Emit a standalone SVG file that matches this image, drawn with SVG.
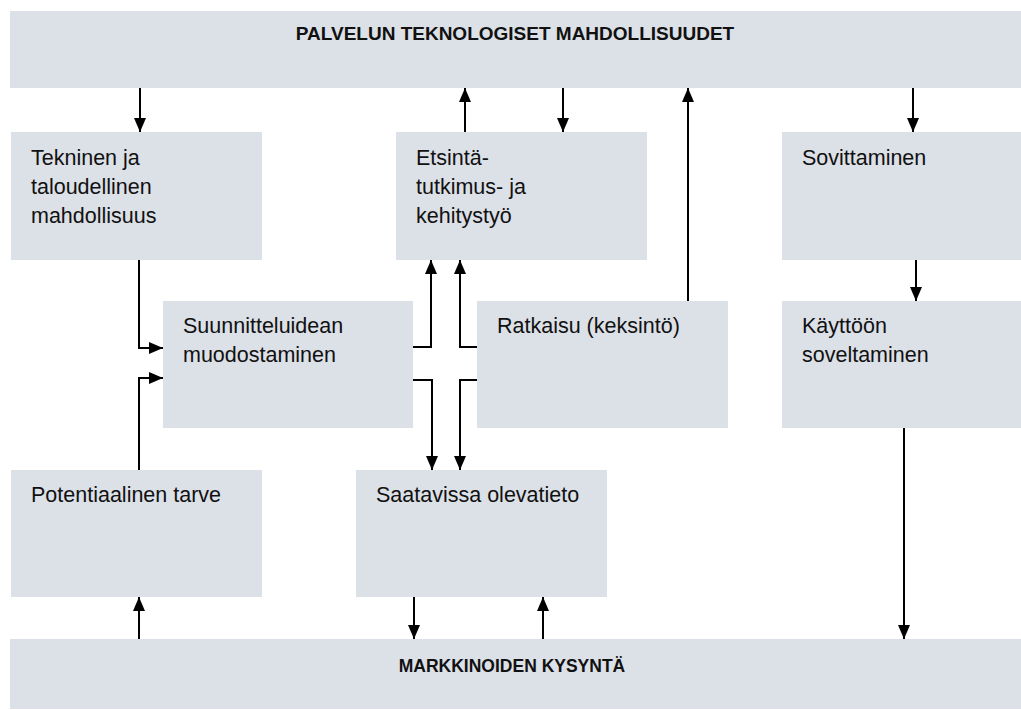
<svg xmlns="http://www.w3.org/2000/svg" width="1021" height="710" viewBox="0 0 1021 710">
<style>
.box{fill:#dce0e7;}
.t{font-family:"Liberation Sans",Arial,sans-serif;font-size:21.5px;fill:#111;}
.h{font-family:"Liberation Sans",Arial,sans-serif;font-weight:bold;fill:#111;text-anchor:middle;}
.c{fill:none;stroke:#000;stroke-width:2;marker-end:url(#ah);}
</style>
<defs>
<marker id="ah" markerUnits="userSpaceOnUse" markerWidth="14" markerHeight="12" viewBox="0 0 14 12" refX="14" refY="6" orient="auto">
<path d="M0,0 L14,6 L0,12 z" fill="#000"/>
</marker>
</defs>
<rect width="1021" height="710" fill="#fff"/>
<g id="top">
<rect class="box" x="10" y="11" width="1011" height="77"/>
<text class="h" x="515" y="40" font-size="19">PALVELUN TEKNOLOGISET MAHDOLLISUUDET</text>
</g>
<g id="tekninen">
<rect class="box" x="11" y="132" width="251" height="128"/>
<text class="t" x="31" y="165">Tekninen ja</text>
<text class="t" x="31" y="194">taloudellinen</text>
<text class="t" x="31" y="223">mahdollisuus</text>
</g>
<g id="etsinta">
<rect class="box" x="396" y="132" width="251" height="128"/>
<text class="t" x="416" y="165">Etsintä-</text>
<text class="t" x="416" y="194">tutkimus- ja</text>
<text class="t" x="416" y="223">kehitystyö</text>
</g>
<g id="sovittaminen">
<rect class="box" x="782" y="132" width="239" height="128"/>
<text class="t" x="802" y="165">Sovittaminen</text>
</g>
<g id="suunnitteluidean">
<rect class="box" x="163" y="301" width="250" height="127"/>
<text class="t" x="183" y="333">Suunnitteluidean</text>
<text class="t" x="183" y="362">muodostaminen</text>
</g>
<g id="ratkaisu">
<rect class="box" x="477" y="301" width="251" height="127"/>
<text class="t" x="497" y="333">Ratkaisu (keksintö)</text>
</g>
<g id="kayttoon">
<rect class="box" x="782" y="301" width="239" height="127"/>
<text class="t" x="802" y="333">Käyttöön</text>
<text class="t" x="802" y="362">soveltaminen</text>
</g>
<g id="potentiaalinen">
<rect class="box" x="11" y="470" width="251" height="127"/>
<text class="t" x="31" y="502">Potentiaalinen tarve</text>
</g>
<g id="saatavissa">
<rect class="box" x="356" y="470" width="251" height="127"/>
<text class="t" x="376" y="502">Saatavissa olevatieto</text>
</g>
<g id="bottom">
<rect class="box" x="10" y="639" width="1011" height="70"/>
<text class="h" x="512" y="672" font-size="17.5">MARKKINOIDEN KYSYNTÄ</text>
</g>
<g id="connectors">
<path class="c" d="M140,88 V132"/>
<path class="c" d="M465,132 V88"/>
<path class="c" d="M563,88 V132"/>
<path class="c" d="M688,301 V88"/>
<path class="c" d="M913,88 V132"/>
<path class="c" d="M916,260 V301"/>
<path class="c" d="M904,428 V639"/>
<path class="c" d="M139,260 V348 H163"/>
<path class="c" d="M139,470 V378 H163"/>
<path class="c" d="M413,347 H431 V260"/>
<path class="c" d="M477,347 H460 V260"/>
<path class="c" d="M413,380 H432 V470"/>
<path class="c" d="M477,380 H460 V470"/>
<path class="c" d="M414,597 V639"/>
<path class="c" d="M543,639 V597"/>
<path class="c" d="M139,639 V597"/>
</g>
</svg>
